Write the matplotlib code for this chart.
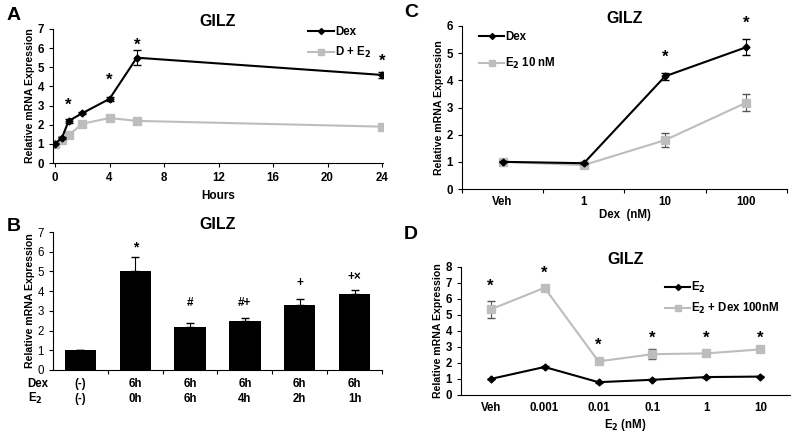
import matplotlib
matplotlib.use("Agg")
import matplotlib.pyplot as plt
from matplotlib.lines import Line2D
import numpy as np

plt.rcParams['font.family'] = ['Liberation Sans', 'DejaVu Sans']
plt.rcParams['font.weight'] = 'bold'
plt.rcParams['axes.labelweight'] = 'bold'

GRAY = '#BDBDBD'
FS = 8.3

# Panel A: time course
a_hours = [0, 0.5, 1, 2, 4, 6, 24]
a_dex = [1.0, 1.3, 2.2, 2.6, 3.35, 5.5, 4.6]
a_dex_err = [0.02, 0.05, 0.12, 0.05, 0.1, 0.4, 0.15]
a_de2 = [1.0, 1.2, 1.45, 2.05, 2.35, 2.2, 1.9]
a_de2_err = [0.02, 0.05, 0.05, 0.05, 0.12, 0.15, 0.05]
a_star_x = [1, 4, 6, 24]
a_star_y = [3.0, 4.3, 6.15, 5.3]

# Panel B: bars
b_vals = [1.0, 5.0, 2.2, 2.5, 3.28, 3.83]
b_err = [0.03, 0.75, 0.18, 0.12, 0.3, 0.22]
b_marks = ['', '*', '#', '#+', '+', '+\u00d7']
b_mark_y = [0, 6.2, 3.4, 3.4, 4.4, 4.7]
b_dex = ['(-)', '6h', '6h', '6h', '6h', '6h']
b_e2 = ['(-)', '0h', '6h', '4h', '2h', '1h']

# Panel C: Dex dose
c_cats = ['Veh', '1', '10', '100']
c_dex = [1.0, 0.95, 4.15, 5.22]
c_dex_err = [0.02, 0.02, 0.12, 0.3]
c_e2 = [1.0, 0.88, 1.8, 3.18]
c_e2_err = [0.02, 0.02, 0.25, 0.3]
c_star_idx = [2, 3]
c_star_y = [4.85, 6.1]

# Panel D: E2 dose
d_cats = ['Veh', '0.001', '0.01', '0.1', '1', '10']
d_e2 = [1.0, 1.75, 0.8, 0.95, 1.12, 1.15]
d_e2_err = [0.02, 0.05, 0.02, 0.03, 0.03, 0.03]
d_dex = [5.35, 6.7, 2.1, 2.55, 2.6, 2.85]
d_dex_err = [0.55, 0.08, 0.05, 0.3, 0.05, 0.18]
d_star_y = [6.8, 7.6, 3.1, 3.55, 3.55, 3.55]

fig = plt.figure(figsize=(7.92, 4.34), dpi=100)


def style(ax):
    for s in ['top', 'right']:
        ax.spines[s].set_visible(False)
    ax.tick_params(labelsize=FS, length=3, width=0.8)
    ax.set_ylabel('Relative mRNA Expression', fontsize=7.6, labelpad=2)


def handles(lab_black, lab_gray):
    return [Line2D([], [], color='black', marker='D', ms=3, lw=1.5, label=lab_black),
            Line2D([], [], color=GRAY, marker='s', ms=4.5, lw=1.5, label=lab_gray)]


def lines(ax, x, yb, eb, yg, eg):
    ax.errorbar(x, yb, yerr=eb, color='black', marker='D', ms=3.5,
                lw=1.5, capsize=3, elinewidth=0.8, zorder=3)
    ax.errorbar(x, yg, yerr=eg, color=GRAY, marker='s', ms=6,
                lw=1.5, capsize=3, elinewidth=0.8, ecolor='#555555', zorder=2)


# ---- A ----
axA = fig.add_axes([0.0669, 0.6244, 0.4167, 0.3088])
lines(axA, a_hours, a_dex, a_dex_err, a_de2, a_de2_err)
for x, y in zip(a_star_x, a_star_y):
    axA.text(x, y, '*', ha='center', va='center', fontsize=12, fontweight='bold')
axA.set_xlim(-0.15, 24.07)
axA.set_ylim(0, 7)
axA.set_xticks([0, 4, 8, 12, 16, 20, 24])
axA.set_yticks(range(8))
axA.set_xlabel('Hours', fontsize=8.5)
style(axA)
axA.set_title('GILZ', fontsize=11.5, fontweight='bold', pad=2)
axA.legend(handles=handles('Dex', 'D + E$_2$'), loc='upper right', bbox_to_anchor=(0.995, 1.1),
           frameon=False, fontsize=FS, handlelength=2.2, handletextpad=0.1, labelspacing=0.6)

# ---- B ----
axB = fig.add_axes([0.0669, 0.1475, 0.4154, 0.3179])
xb = np.arange(len(b_vals))
axB.bar(xb, b_vals, width=0.57, color='black', zorder=2)
axB.errorbar(xb, b_vals, yerr=[np.zeros(len(b_err)), b_err], fmt='none', ecolor='black',
             capsize=3, elinewidth=0.8)
for x, m, y in zip(xb, b_marks, b_mark_y):
    if m:
        axB.text(x, y, m, ha='center', va='center', fontsize=10 if m == '*' else 8.5,
                 fontweight='bold')
axB.set_xlim(-0.5, 5.5)
axB.set_ylim(0, 7)
axB.set_yticks(range(8))
axB.set_xticks(np.arange(0.5, 5.6, 1))
axB.set_xticklabels([])
style(axB)
for t in axB.get_yticklabels():
    t.set_fontweight('normal')
axB.set_title('GILZ', fontsize=11.5, fontweight='bold', pad=2)
for x, d, e in zip(xb, b_dex, b_e2):
    axB.text(x, -0.72, d, ha='center', va='center', fontsize=FS, fontweight='bold')
    axB.text(x, -1.45, e, ha='center', va='center', fontsize=FS, fontweight='bold')
axB.text(-0.59, -0.72, 'Dex', ha='right', va='center', fontsize=FS, fontweight='bold')
axB.text(-0.68, -1.45, 'E$_2$', ha='right', va='center', fontsize=FS, fontweight='bold')

# ---- C ----
axC = fig.add_axes([0.5833, 0.5645, 0.4104, 0.3756])
xc = np.arange(len(c_cats))
lines(axC, xc, c_dex, c_dex_err, c_e2, c_e2_err)
for i, y in zip(c_star_idx, c_star_y):
    axC.text(xc[i], y, '*', ha='center', va='center', fontsize=12, fontweight='bold')
axC.set_xlim(-0.5, 3.5)
axC.set_ylim(0, 6)
axC.set_yticks(range(7))
axC.set_xticks(np.arange(-0.5, 3.6, 1))
axC.set_xticks(xc, minor=True)
axC.set_xticklabels([])
axC.set_xticklabels(c_cats, minor=True)
style(axC)
axC.tick_params(axis='x', which='minor', length=0, labelsize=FS, pad=5)
axC.set_xlabel('Dex  (nM)', fontsize=FS, labelpad=1)
axC.set_title('GILZ', fontsize=11.5, fontweight='bold', pad=2)
axC.legend(handles=handles('Dex', 'E$_2$ 10 nM'), loc='upper left', bbox_to_anchor=(0.02, 1.03),
           frameon=False, fontsize=FS, handlelength=2.2, handletextpad=0.1, labelspacing=1.1)

# ---- D ----
axD = fig.add_axes([0.582, 0.0899, 0.4155, 0.2949])
xd = np.arange(len(d_cats))
lines(axD, xd, d_e2, d_e2_err, d_dex, d_dex_err)
for x, y in zip(xd, d_star_y):
    axD.text(x, y, '*', ha='center', va='center', fontsize=12, fontweight='bold')
axD.set_xlim(-0.55, 5.55)
axD.set_ylim(0, 8)
axD.set_yticks(range(9))
axD.set_xticks(xd)
axD.set_xticklabels(d_cats)
style(axD)
axD.tick_params(axis='x', length=0, pad=5)
axD.set_xlabel('E$_2$ (nM)', fontsize=FS, labelpad=2)
axD.set_title('GILZ', fontsize=11.5, fontweight='bold', pad=2)
axD.legend(handles=handles('E$_2$', 'E$_2$ + Dex 100nM'), loc='upper right',
           bbox_to_anchor=(1.0, 0.98), frameon=False, fontsize=FS,
           handlelength=2.2, handletextpad=0.1, labelspacing=0.5)

# panel letters
for letter, x, y in [('A', 0.008, 0.985), ('C', 0.51, 0.99), ('B', 0.008, 0.497), ('D', 0.51, 0.48)]:
    fig.text(x, y, letter, fontsize=14, fontweight='bold', va='top', ha='left')

fig.savefig('out.png', dpi=100)
